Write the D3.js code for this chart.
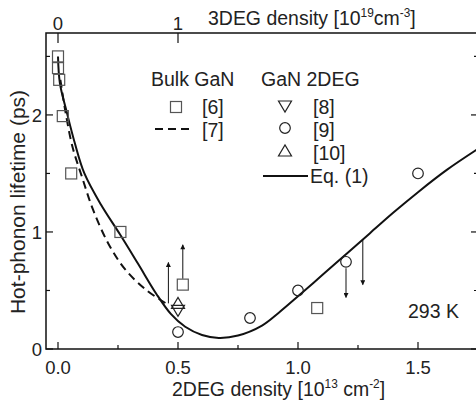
<!DOCTYPE html>
<html>
<head>
<meta charset="utf-8">
<script src="https://cdn.jsdelivr.net/npm/d3@7"></script>
<style>
  body { margin: 0; background: #fff; }
  text { font-family: "Liberation Sans", Arial, sans-serif; fill: #222; }
</style>
</head>
<body>
<div id="contenedor"></div>
<script>
// datos
bulk6 = [[0.0, 2.5], [0.0, 2.4], [0.005, 2.3], [0.02, 1.99], [0.055, 1.5], [0.26, 1.0], [0.52, 0.55], [1.08, 0.35]]
ref8 = [[0.5, 0.33]]
ref9 = [[0.5, 0.145], [0.8, 0.265], [1.0, 0.5], [1.2, 0.745], [1.5, 1.5]]
ref10 = [[0.5, 0.39]]
ref7 = [[0.01, 2.3], [0.03, 2.04], [0.06, 1.73], [0.10, 1.47], [0.146, 1.19], [0.21, 0.90], [0.28, 0.68], [0.37, 0.50], [0.45, 0.39]]
eq1 = [[0.0, 2.5], [0.008, 2.27], [0.037, 2.02], [0.07, 1.76], [0.11, 1.5], [0.18, 1.23], [0.258, 0.98], [0.333, 0.73],
       [0.41, 0.47], [0.47, 0.30], [0.53, 0.19], [0.6, 0.12], [0.67, 0.095], [0.75, 0.115], [0.85, 0.2], [0.92, 0.31],
       [1.0, 0.45], [1.1, 0.63], [1.2, 0.81], [1.3, 0.99], [1.4, 1.17], [1.5, 1.34], [1.62, 1.53], [1.75, 1.71]]
// flechas: x, desde, hasta
flechas = [[0.46, 0.39, 0.74], [0.52, 0.6, 0.89], [1.2, 0.69, 0.44], [1.27, 0.94, 0.55]]
ticksX = [0, 0.5, 1.0, 1.5]
ticksXmenor = [0.25, 0.75, 1.25, 1.75]
ticksY = [0, 1, 2]
ticksYmenor = [0.5, 1.5, 2.5]
ticks3D = [0, 1]

ancho = 476
alto = 407

svg = d3.select("#contenedor").append("svg")
    .attr("width", ancho).attr("height", alto)

x = d3.scaleLinear().domain([-0.05, 1.75]).range([46, 478])
y = d3.scaleLinear().domain([0, 2.7]).range([349, 33])
// eje superior: 1e19 cm-3 <-> 0.5e13 cm-2
x3 = d3.scaleLinear().domain([0, 1]).range([x(0), x(0.5)])

// marco
svg.append("rect").attr("x", 46).attr("y", 33).attr("width", 432).attr("height", 316)
    .attr("fill", "none").attr("stroke", "#111").attr("stroke-width", 1.5)

g = svg.append("g").attr("stroke", "#111").attr("stroke-width", 1.2)
// abajo
g.selectAll(".tb").data(ticksX).enter().append("line")
    .attr("x1", d => x(d)).attr("x2", d => x(d)).attr("y1", 349).attr("y2", 342)
g.selectAll(".tbm").data(ticksXmenor).enter().append("line")
    .attr("x1", d => x(d)).attr("x2", d => x(d)).attr("y1", 349).attr("y2", 345)
// izquierda
g.selectAll(".tl").data(ticksY).enter().append("line")
    .attr("x1", 46).attr("x2", 53).attr("y1", d => y(d)).attr("y2", d => y(d))
g.selectAll(".tlm").data(ticksYmenor).enter().append("line")
    .attr("x1", 46).attr("x2", 50).attr("y1", d => y(d)).attr("y2", d => y(d))
// derecha
g.selectAll(".tr").data(ticksY.concat(ticksYmenor)).enter().append("line")
    .attr("x1", 478).attr("x2", d => d % 1 == 0 ? 471 : 474).attr("y1", d => y(d)).attr("y2", d => y(d))
// arriba
g.selectAll(".tt").data(ticks3D).enter().append("line")
    .attr("x1", d => x3(d)).attr("x2", d => x3(d)).attr("y1", 33).attr("y2", 43)

svg.selectAll(".lb").data(ticksX).enter().append("text")
    .attr("x", d => x(d)).attr("y", 374).attr("text-anchor", "middle").attr("font-size", 18.5)
    .text(d => d3.format(".1f")(d))
svg.selectAll(".ll").data(ticksY).enter().append("text")
    .attr("x", 42).attr("y", d => y(d) + 7).attr("text-anchor", "end").attr("font-size", 18.5)
    .text(d => d)
svg.selectAll(".lt").data(ticks3D).enter().append("text")
    .attr("x", d => x3(d)).attr("y", 30).attr("text-anchor", "middle").attr("font-size", 18.5)
    .text(d => d)

// titulos
t = svg.append("text").attr("transform", "translate(208,25) scale(0.95,1)").attr("font-size", 20.5)
t.append("tspan").text("3DEG density [10")
t.append("tspan").attr("dy", -8).attr("font-size", 12.5).text("19")
t.append("tspan").attr("dy", 8).text("cm")
t.append("tspan").attr("dy", -8).attr("font-size", 12.5).text("-3")
t.append("tspan").attr("dy", 8).text("]")

t = svg.append("text").attr("transform", "translate(172,396) scale(0.95,1)").attr("font-size", 20.5)
t.append("tspan").text("2DEG density [10")
t.append("tspan").attr("dy", -8).attr("font-size", 12.5).text("13")
t.append("tspan").attr("dy", 8).text(" cm")
t.append("tspan").attr("dy", -8).attr("font-size", 12.5).text("-2")
t.append("tspan").attr("dy", 8).text("]")

svg.append("text").attr("transform", "translate(25,202) rotate(-90)")
    .attr("text-anchor", "middle").attr("font-size", 21).text("Hot-phonon lifetime (ps)")

// curvas
linea = d3.line().x(d => x(d[0])).y(d => y(d[1])).curve(d3.curveCatmullRom.alpha(0.5))
svg.append("path").attr("d", linea(ref7)).attr("fill", "none").attr("stroke", "#111")
    .attr("stroke-width", 2).attr("stroke-dasharray", "8,5")
svg.append("path").attr("d", linea(eq1)).attr("fill", "none").attr("stroke", "#111").attr("stroke-width", 2)

// flechas
svg.append("defs").append("marker").attr("id", "punta").attr("viewBox", "0 0 10 10")
    .attr("refX", 9).attr("refY", 5).attr("markerWidth", 9).attr("markerHeight", 5)
    .attr("orient", "auto").attr("markerUnits", "userSpaceOnUse")
    .append("path").attr("d", "M0,0 L10,5 L0,10 Z").attr("fill", "#111")
svg.selectAll(".fl").data(flechas).enter().append("line")
    .attr("x1", d => x(d[0])).attr("x2", d => x(d[0]))
    .attr("y1", d => y(d[1])).attr("y2", d => y(d[2]))
    .attr("stroke", "#111").attr("stroke-width", 1).attr("marker-end", "url(#punta)")

// simbolos
function cuadrado(sel, cx, cy) {
    sel.append("rect").attr("x", cx - 5.5).attr("y", cy - 5.5).attr("width", 11).attr("height", 11)
        .attr("fill", "none").attr("stroke", "#555").attr("stroke-width", 1.2)
}
function circulo(sel, cx, cy) {
    sel.append("circle").attr("cx", cx).attr("cy", cy).attr("r", 5.3)
        .attr("fill", "none").attr("stroke", "#222").attr("stroke-width", 1.2)
}
function triangulo(sel, cx, cy, abajo) {
    s = abajo ? -1 : 1
    sel.append("path")
        .attr("d", `M${cx - 6.5},${cy + 5 * s} L${cx + 6.5},${cy + 5 * s} L${cx},${cy - 6 * s} Z`)
        .attr("fill", "none").attr("stroke", "#222").attr("stroke-width", 1.2)
}
bulk6.forEach(d => cuadrado(svg, x(d[0]), y(d[1])))
ref9.forEach(d => circulo(svg, x(d[0]), y(d[1])))
ref8.forEach(d => triangulo(svg, x(d[0]), y(d[1]), true))
ref10.forEach(d => triangulo(svg, x(d[0]), y(d[1]), false))

// leyenda
svg.append("text").attr("x", 151).attr("y", 86).attr("font-size", 19.5).text("Bulk GaN")
svg.append("text").attr("x", 261).attr("y", 86).attr("font-size", 19.5).text("GaN 2DEG")
cuadrado(svg, 176, 107)
svg.append("text").attr("x", 202).attr("y", 114).attr("font-size", 19.5).text("[6]")
svg.append("line").attr("x1", 155).attr("x2", 193).attr("y1", 129).attr("y2", 129)
    .attr("stroke", "#111").attr("stroke-width", 2).attr("stroke-dasharray", "8,5")
svg.append("text").attr("x", 202).attr("y", 137).attr("font-size", 19.5).text("[7]")
triangulo(svg, 285, 106, true)
svg.append("text").attr("x", 313).attr("y", 114).attr("font-size", 19.5).text("[8]")
circulo(svg, 285, 128)
svg.append("text").attr("x", 313).attr("y", 137).attr("font-size", 19.5).text("[9]")
triangulo(svg, 285, 151, false)
svg.append("text").attr("x", 313).attr("y", 160).attr("font-size", 19.5).text("[10]")
svg.append("line").attr("x1", 263).attr("x2", 308).attr("y1", 176).attr("y2", 176)
    .attr("stroke", "#111").attr("stroke-width", 2)
svg.append("text").attr("x", 310).attr("y", 183).attr("font-size", 19.5).text("Eq. (1)")

svg.append("text").attr("x", 408).attr("y", 318).attr("font-size", 19.5).text("293 K")
</script>
</body>
</html>
